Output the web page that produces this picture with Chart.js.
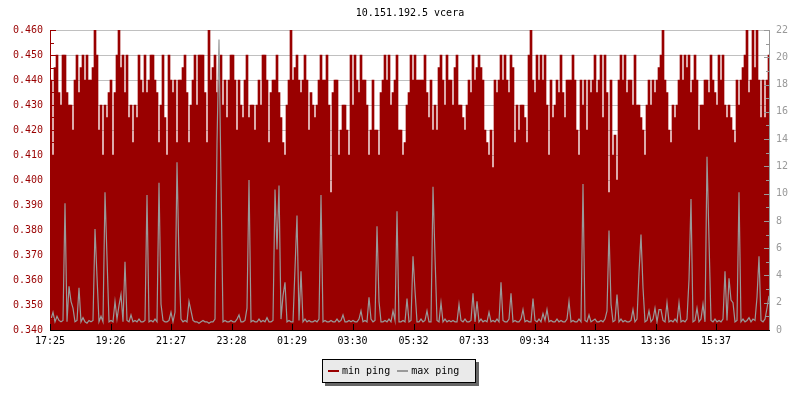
<!DOCTYPE html>
<html>
<head>
<meta charset="utf-8">
<script src="https://cdn.jsdelivr.net/npm/chart.js@4/dist/chart.umd.min.js"></script>
<style>
  body { margin: 0; background: #fff; }
  #wrap { position: relative; width: 800px; height: 400px; font-family: 'DejaVu Sans Mono', monospace; }
  #title { position: absolute; left: 410px; top: 7px; transform: translateX(-50%); font-size: 10px; color: #000; white-space: nowrap; }
  #legend { position: absolute; left: 322px; top: 359px; width: 152px; height: 22px; border: 1px solid #000;
            background: #eaeaea; box-shadow: 3px 3px 0 #666; font-size: 10px; line-height: 22px; white-space: nowrap; }
  #legend .sw { display: inline-block; width: 11px; height: 2px; vertical-align: middle; margin: 0 3px 0 5px; }
</style>
</head>
<body>
<div id="wrap">
  <canvas id="chart" width="800" height="400"></canvas>
  <div id="title">10.151.192.5 vcera</div>
  <div id="legend"><span class="sw" style="background:#990000"></span>min ping<span class="sw" style="background:#999999;margin-left:7px"></span>max ping</div>
</div>
<script>
// sampling: one value every 4 minutes, starting 17:25
const startTime = '17:25';
const sampleMinutes = 4;
const tickLabels = ['17:25', '19:26', '21:27', '23:28', '01:29', '03:30', '05:32', '07:33', '09:34', '11:35', '13:36', '15:37'];

// min ping (left axis)
const minPing = [
    0.44,0.41,0.445,0.45,0.435,0.43,0.45,0.45,0.435,0.43,
    0.43,0.42,0.44,0.45,0.435,0.445,0.45,0.44,0.45,0.44,
    0.44,0.445,0.46,0.45,0.42,0.43,0.41,0.43,0.425,0.435,
    0.44,0.41,0.435,0.45,0.46,0.445,0.45,0.435,0.45,0.425,
    0.43,0.415,0.43,0.425,0.45,0.44,0.435,0.45,0.435,0.44,
    0.45,0.45,0.44,0.435,0.415,0.43,0.45,0.425,0.41,0.45,
    0.44,0.435,0.44,0.415,0.44,0.44,0.445,0.45,0.435,0.415,
    0.43,0.44,0.45,0.43,0.45,0.45,0.45,0.435,0.415,0.46,
    0.44,0.445,0.45,0.435,0.44,0.45,0.43,0.44,0.425,0.44,
    0.45,0.45,0.44,0.42,0.44,0.43,0.425,0.44,0.45,0.425,
    0.43,0.43,0.42,0.43,0.44,0.43,0.45,0.45,0.44,0.415,
    0.435,0.44,0.44,0.45,0.435,0.425,0.415,0.41,0.43,0.44,
    0.46,0.44,0.445,0.45,0.44,0.435,0.44,0.45,0.44,0.42,
    0.435,0.43,0.425,0.43,0.44,0.45,0.44,0.44,0.45,0.43,
    0.395,0.435,0.44,0.44,0.41,0.42,0.43,0.43,0.42,0.41,
    0.45,0.43,0.45,0.44,0.435,0.45,0.44,0.44,0.43,0.41,
    0.42,0.44,0.42,0.42,0.41,0.435,0.44,0.45,0.44,0.45,
    0.43,0.435,0.44,0.45,0.42,0.42,0.41,0.415,0.43,0.435,
    0.45,0.44,0.45,0.44,0.44,0.44,0.44,0.45,0.435,0.425,
    0.44,0.42,0.43,0.42,0.445,0.45,0.44,0.43,0.45,0.44,
    0.44,0.43,0.445,0.45,0.43,0.43,0.425,0.42,0.43,0.44,
    0.435,0.45,0.44,0.445,0.45,0.445,0.44,0.42,0.415,0.41,
    0.42,0.405,0.44,0.435,0.44,0.45,0.44,0.45,0.44,0.435,
    0.45,0.445,0.415,0.43,0.42,0.43,0.43,0.425,0.415,0.45,
    0.46,0.44,0.435,0.45,0.44,0.45,0.44,0.45,0.43,0.41,
    0.44,0.425,0.43,0.44,0.435,0.45,0.435,0.425,0.44,0.44,
    0.44,0.45,0.44,0.42,0.41,0.44,0.43,0.44,0.42,0.44,
    0.435,0.44,0.45,0.435,0.44,0.45,0.425,0.45,0.435,0.395,
    0.44,0.41,0.418,0.40,0.44,0.45,0.44,0.45,0.435,0.44,
    0.44,0.43,0.45,0.43,0.43,0.425,0.42,0.41,0.43,0.44,
    0.43,0.44,0.435,0.44,0.445,0.45,0.46,0.44,0.435,0.42,
    0.415,0.43,0.425,0.43,0.44,0.45,0.44,0.45,0.445,0.45,
    0.435,0.44,0.45,0.44,0.42,0.43,0.43,0.44,0.44,0.435,
    0.45,0.44,0.435,0.43,0.45,0.44,0.45,0.43,0.425,0.43,
    0.425,0.42,0.415,0.44,0.43,0.44,0.445,0.45,0.46,0.435,
    0.44,0.46,0.445,0.46,0.44,0.425,0.44,0.425,0.44,0.45
];

// max ping (right axis)
const maxPing = [
    0.8,1.3,0.6,1.0,0.7,0.6,0.7,9.3,0.6,3.2,
    2.1,1.6,0.6,0.7,3.1,0.6,0.9,0.6,0.5,0.7,
    0.6,0.7,7.4,3.9,0.6,1.0,0.6,10.1,5.3,0.6,
    0.7,0.6,2.1,0.8,1.8,2.6,0.6,5.0,0.7,0.6,
    1.1,0.6,0.7,0.6,0.8,0.6,0.6,0.7,9.9,0.6,
    0.7,0.6,0.8,0.6,10.8,1.9,0.7,0.6,0.6,0.7,
    1.3,0.6,1.3,12.3,5.1,0.8,0.6,0.7,0.6,2.1,
    1.4,0.7,0.6,0.6,0.5,0.6,0.7,0.6,0.6,0.5,
    0.6,0.6,0.8,13.7,21.3,10.9,0.6,0.7,0.6,0.6,
    0.7,0.6,0.6,0.8,1.1,0.6,0.6,0.7,1.6,11.0,
    0.6,0.7,0.6,0.6,0.8,0.6,0.7,0.6,0.9,0.6,
    0.6,0.7,10.3,5.9,10.6,0.8,2.5,3.5,0.6,0.7,
    0.6,0.6,4.5,8.4,0.7,4.3,0.6,0.8,0.6,0.7,
    0.6,0.6,0.7,0.6,0.8,9.9,0.6,0.7,0.6,0.6,
    0.7,0.6,0.6,0.8,0.6,0.7,1.1,0.6,0.6,0.7,
    0.6,0.7,0.6,0.6,0.8,1.4,0.6,0.7,0.6,2.4,
    0.8,0.6,0.7,7.6,2.1,0.6,0.6,0.7,0.6,0.8,
    0.6,1.4,0.7,8.7,0.6,0.6,0.7,0.6,2.3,0.6,
    0.7,5.4,2.9,0.6,0.6,0.8,0.6,0.7,1.4,0.6,
    0.6,10.5,5.4,0.7,0.6,2.0,0.6,0.8,0.6,0.7,
    0.6,0.7,0.6,0.6,1.9,0.7,0.6,0.8,0.6,0.6,
    0.7,2.7,0.6,2.1,0.6,0.8,0.6,0.7,0.6,1.3,
    0.6,0.7,0.6,0.8,0.6,3.5,0.7,0.6,0.6,0.8,
    2.7,0.6,0.7,0.6,0.6,0.8,1.5,0.6,0.7,0.6,
    0.6,2.3,0.7,0.6,0.8,0.6,1.2,0.7,1.5,0.6,
    0.7,0.6,0.6,0.8,0.6,0.7,0.6,0.6,0.8,2.1,
    0.6,0.7,0.6,0.6,0.8,0.6,10.7,0.7,0.6,1.1,
    0.6,0.7,0.8,0.6,0.6,0.7,0.6,0.8,1.4,7.3,
    1.9,0.6,0.7,2.6,0.6,0.8,0.6,0.7,0.6,0.6,
    0.7,1.5,0.6,0.8,4.2,7.0,3.1,0.6,0.7,1.4,
    0.6,0.8,1.6,0.6,1.5,1.5,0.7,0.6,2.0,0.6,
    0.7,0.6,0.8,0.6,2.0,0.6,0.7,0.6,0.8,3.7,
    9.6,0.6,0.7,1.6,0.6,0.8,1.9,0.6,12.7,6.6,
    0.7,0.6,0.8,0.6,0.7,0.6,0.8,4.3,0.7,3.8,
    2.2,2.0,0.6,0.7,10.1,0.6,0.8,0.6,0.7,0.9,
    0.6,0.8,0.7,2.4,5.4,0.7,0.6,0.8,1.6,2.5
];

const RED = '#990000';
const GREY = '#999999';

function minutesFromStart(label) {
    const toMin = s => parseInt(s.slice(0, 2)) * 60 + parseInt(s.slice(3, 5));
    return (toMin(label) - toMin(startTime) + 1440) % 1440;
}
const tickMinutes = tickLabels.map(minutesFromStart);

// axis lines and inward tick marks, like the original tool draws them
const axisDecor = {
    id: 'axisDecor',
    afterDatasetsDraw(chart) {
        const ctx = chart.ctx;
        const a = chart.chartArea;
        const yl = chart.scales.y, yr = chart.scales.y1, x = chart.scales.x;
        ctx.save();
        ctx.lineWidth = 1;
        // left axis
        ctx.strokeStyle = RED;
        ctx.beginPath();
        ctx.moveTo(a.left + 0.5, a.top); ctx.lineTo(a.left + 0.5, a.bottom);
        for (let k = 0; k <= 24; k++) {
            const py = Math.round(yl.getPixelForValue(0.34 + k * 0.005)) + 0.5;
            ctx.moveTo(a.left, py); ctx.lineTo(a.left + (k % 2 ? 4 : 6), py);
        }
        ctx.stroke();
        // right axis
        ctx.strokeStyle = GREY;
        ctx.beginPath();
        ctx.moveTo(a.right - 0.5, a.top); ctx.lineTo(a.right - 0.5, a.bottom);
        for (let v = 0; v <= 22; v++) {
            const py = Math.round(yr.getPixelForValue(v)) + 0.5;
            ctx.moveTo(a.right, py); ctx.lineTo(a.right - (v % 2 ? 4 : 6), py);
        }
        ctx.stroke();
        // bottom axis
        ctx.strokeStyle = '#000';
        ctx.beginPath();
        ctx.moveTo(a.left, a.bottom + 0.5); ctx.lineTo(a.right, a.bottom + 0.5);
        tickMinutes.forEach(m => {
            const px = Math.round(x.getPixelForValue(m)) + 0.5;
            ctx.moveTo(px, a.bottom); ctx.lineTo(px, a.bottom - 6);
        });
        ctx.stroke();
        ctx.restore();
    }
};

Chart.defaults.font.family = "'DejaVu Sans Mono', monospace";
Chart.defaults.font.size = 10;

const ctx = document.getElementById('chart').getContext('2d');
new Chart(ctx, {
    data: {
        datasets: [{
            type: 'line',
            label: 'max ping',
            data: maxPing.map((v, i) => ({ x: i * sampleMinutes + sampleMinutes / 2, y: v })),
            yAxisID: 'y1',
            borderColor: GREY,
            borderWidth: 1.2,
            pointRadius: 0,
            tension: 0,
            fill: false,
            order: 0
        }, {
            type: 'bar',
            label: 'min ping',
            data: minPing.map((v, i) => ({ x: i * sampleMinutes + sampleMinutes / 2, y: v })),
            yAxisID: 'y',
            backgroundColor: RED,
            borderWidth: 0,
            barPercentage: 1,
            categoryPercentage: 1,
            grouped: false,
            order: 1
        }]
    },
    options: {
        responsive: false,
        animation: false,
        layout: { padding: { top: 30, left: 0, right: 0, bottom: 0 } },
        plugins: {
            legend: { display: false },
            tooltip: { enabled: false }
        },
        scales: {
            x: {
                type: 'linear',
                min: 0,
                max: 1440,
                offset: false,
                afterBuildTicks: scale => { scale.ticks = tickMinutes.map(v => ({ value: v })); },
                afterFit: scale => { scale.height = 70; },
                ticks: {
                    autoSkip: false,
                    maxRotation: 0,
                    padding: 5,
                    color: '#000',
                    callback: (value, index) => tickLabels[index]
                },
                grid: { display: false, drawTicks: false, offset: false },
                border: { display: false }
            },
            y: {
                position: 'left',
                min: 0.34,
                max: 0.46,
                afterFit: scale => { scale.width = 50; },
                ticks: {
                    stepSize: 0.01,
                    padding: 7,
                    color: RED,
                    callback: v => v.toFixed(3)
                },
                grid: { color: '#c0c0c0', drawTicks: false },
                border: { display: false }
            },
            y1: {
                position: 'right',
                min: 0,
                max: 22,
                afterFit: scale => { scale.width = 30; },
                ticks: { stepSize: 2, padding: 6, color: GREY },
                grid: { display: false, drawTicks: false },
                border: { display: false }
            }
        }
    },
    plugins: [axisDecor]
});
</script>
</body>
</html>
